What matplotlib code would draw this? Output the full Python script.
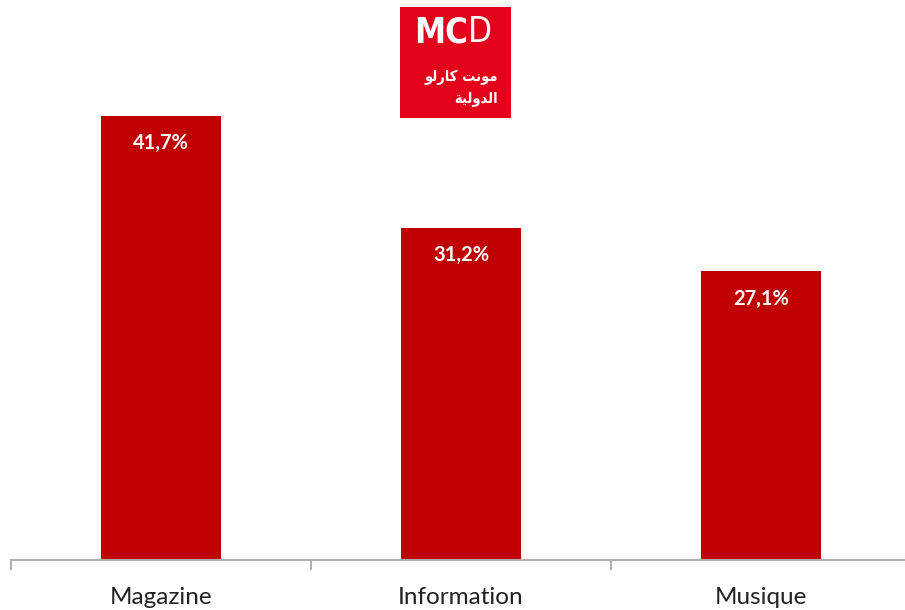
import matplotlib
matplotlib.use("Agg")
import matplotlib.pyplot as plt
from matplotlib.patches import Rectangle

categories = ["Magazine", "Information", "Musique"]
values = [41.7, 31.2, 27.1]
value_labels = ["41,7%", "31,2%", "27,1%"]

W, H = 905, 610
fig = plt.figure(figsize=(W / 100, H / 100), dpi=100)
fig.patch.set_facecolor("white")

ax = fig.add_axes([11 / W, 50 / H, 900 / W, 560 / H])
x = range(len(categories))
bars = ax.bar(x, values, width=0.4, color="#c00000", zorder=2)
ax.set_xlim(-0.5, 2.5)
ax.set_ylim(0, 52.6)

for b, lab in zip(bars, value_labels):
    ax.annotate(lab, (b.get_x() + b.get_width() / 2, b.get_height()),
                xytext=(0, -19.5), textcoords="offset points",
                ha="center", va="center", color="white",
                fontsize=14.5, fontweight="bold", family=["Lato", "DejaVu Sans"])

for s in ["top", "right", "left"]:
    ax.spines[s].set_visible(False)
ax.spines["bottom"].set_color("#b0b0b0")
ax.spines["bottom"].set_linewidth(1.5)
ax.set_yticks([])
ax.set_xticks([-0.5, 0.5, 1.5, 2.5])
ax.set_xticklabels([])
ax.set_xticks(list(x), minor=True)
ax.set_xticklabels(categories, minor=True, fontsize=17.5, family=["Lato", "DejaVu Sans"],
                   color="#222222")
ax.tick_params(axis="x", which="major", length=7.5, width=1.5, color="#b0b0b0", direction="out")
ax.tick_params(axis="x", which="minor", length=0, pad=19.5)

# Logo
fig.patches.append(Rectangle((400 / W, 1 - 118 / H), 111 / W, 111 / H,
                             transform=fig.transFigure, facecolor="#e2001a",
                             edgecolor="none", zorder=5))
fig.text(468 / W, 1 - 32.5 / H, "MC", ha="right", va="center", color="white",
         fontsize=25, fontweight="bold", fontstretch="condensed",
         family=["DejaVu Sans"], zorder=6)
fig.text(468 / W, 1 - 32.5 / H, "D", ha="left", va="center", color="white",
         fontsize=25, fontweight="normal", fontstretch="condensed",
         family=["DejaVu Sans"], zorder=6)
# Arabic (presentation forms, visual order)
ar1 = "\uFEEE\uFEDF\uFEAD\uFE8E\uFEDB \uFE96\uFEE7\uFEEE\uFEE3"
ar2 = "\uFE94\uFEF4\uFEDF\uFEED\uFEAA\uFEDF\uFE8D"
fig.text(498 / W, 1 - 77 / H, ar1, ha="right", va="center", color="white",
         fontsize=10.5, fontweight="bold", fontstretch="condensed",
         family=["DejaVu Sans"], zorder=6)
fig.text(498 / W, 1 - 99 / H, ar2, ha="right", va="center", color="white",
         fontsize=10.5, fontweight="bold", fontstretch="condensed",
         family=["DejaVu Sans"], zorder=6)

fig.savefig("out.png", dpi=100)
